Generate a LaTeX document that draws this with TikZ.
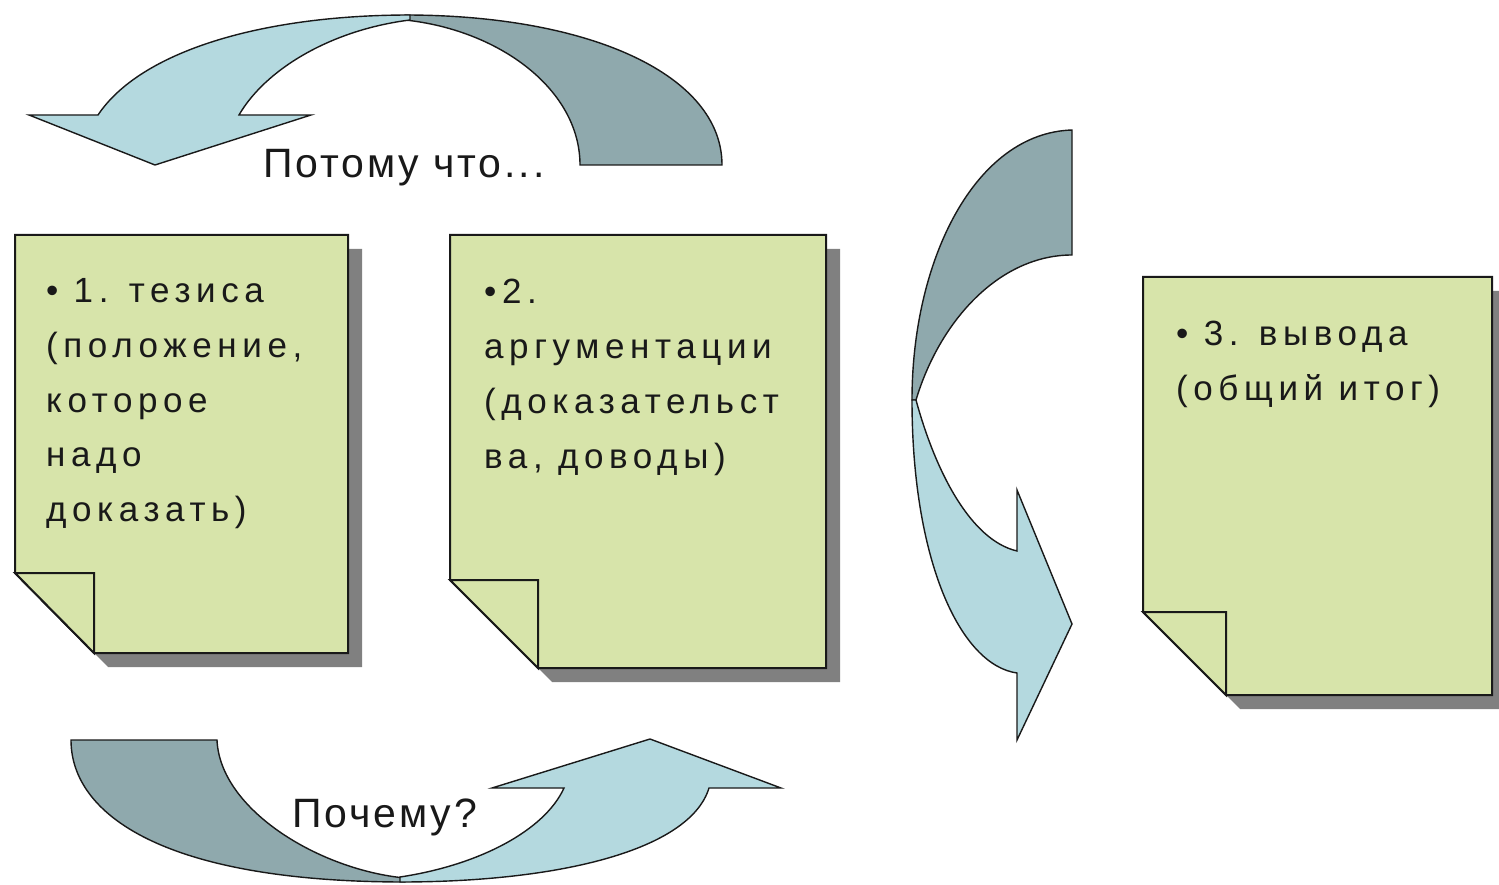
\documentclass[tikz,border=0pt]{standalone}
\usepackage{fontspec}
\setmainfont{Liberation Sans}
\newfontfamily\notefont[LetterSpace=16]{Liberation Sans}
\newfontfamily\labelfont[LetterSpace=7]{Liberation Sans}
\definecolor{notefill}{RGB}{215,228,170}
\definecolor{arrlight}{RGB}{180,217,223}
\definecolor{arrdark}{RGB}{143,169,173}
\definecolor{shadowgray}{RGB}{128,128,128}
\definecolor{inkc}{RGB}{25,25,25}
\begin{document}
\begin{tikzpicture}[x=1pt,y=-1pt,
 notebody/.style={fill=notefill, draw=inkc, line width=2pt, line join=miter},
 noteshadow/.style={fill=shadowgray},
 arrowlight/.style={fill=arrlight, draw=inkc, line width=1.4pt, line join=miter},
 arrowdark/.style={fill=arrdark, draw=inkc, line width=1.4pt, line join=miter},
 notetext/.style={anchor=base west, inner sep=0pt, font=\notefont\fontsize{35}{40}\selectfont, text=inkc},
 labeltext/.style={anchor=base west, inner sep=0pt, font=\labelfont\fontsize{41}{48}\selectfont, text=inkc}]
\useasboundingbox (0,0) rectangle (1499,885);
\clip (0,0) rectangle (1499,885);
\fill[white] (0,0) rectangle (1499,885);

% ---------- note 1 ----------
\fill[noteshadow] (29,249) -- (362,249) -- (362,667) -- (108,667) -- (29,587) -- cycle;
\draw[notebody] (15,235) -- (348,235) -- (348,653) -- (94,653) -- (15,573) -- cycle;
\draw[notebody] (15,573) -- (94,573) -- (94,653) -- cycle;
% ---------- note 2 ----------
\fill[noteshadow] (464,249) -- (840,249) -- (840,682) -- (552,682) -- (464,594) -- cycle;
\draw[notebody] (450,235) -- (826,235) -- (826,668) -- (538,668) -- (450,580) -- cycle;
\draw[notebody] (450,580) -- (538,580) -- (538,668) -- cycle;
% ---------- note 3 ----------
\fill[noteshadow] (1157,291) -- (1506,291) -- (1506,709) -- (1240,709) -- (1157,626) -- cycle;
\draw[notebody] (1143,277) -- (1492,277) -- (1492,695) -- (1226,695) -- (1143,612) -- cycle;
\draw[notebody] (1143,612) -- (1226,612) -- (1226,695) -- cycle;

% ---------- top arrow ----------
\draw[arrowdark] (580,165) -- (722,165) .. controls (722,75) and (590,15) .. (405,15)
  -- (405,20) .. controls (500,30) and (580,90) .. (580,165) -- cycle;
\draw[arrowlight] (98,115) .. controls (140,52) and (260,15) .. (410,15)
  -- (410,20) .. controls (330,30) and (265,70) .. (239,115)
  -- (311,115) -- (155,165) -- (29,115) -- cycle;

% ---------- right arrow ----------
\draw[arrowdark] (1072,130) -- (1072,255) .. controls (1000,255) and (940,320) .. (916,400)
  -- (912,400) .. controls (912,260) and (975,133) .. (1072,130) -- cycle;
\draw[arrowlight] (912,400) .. controls (912,560) and (960,665) .. (1017,673)
  -- (1017,740) -- (1072,624) -- (1017,490) -- (1017,551)
  .. controls (970,540) and (935,470) .. (916,400) -- cycle;

% ---------- bottom arrow ----------
\draw[arrowdark] (71,740) -- (217,740) .. controls (220,810) and (320,870) .. (405,878)
  -- (405,882) .. controls (165,882) and (71,815) .. (71,740) -- cycle;
\draw[arrowlight] (400,882) .. controls (560,882) and (690,850) .. (709,788)
  -- (781,788) -- (650,739) -- (492,788) -- (564,788)
  .. controls (545,830) and (480,865) .. (400,877) -- cycle;

% ---------- texts ----------
\node[notetext] (t1a) at (46,303) {• 1. тезиса};
\node[notetext] (t1b) at (46,357.5) {(положение,};
\node[notetext] (t1c) at (46,412) {которое};
\node[notetext] (t1d) at (46,466.5) {надо};
\node[notetext] (t1e) at (46,521) {доказать)};

\node[notetext] (t2a) at (484,304) {•2.};
\node[notetext] (t2b) at (484,358) {аргументации};
\node[notetext] (t2c) at (484,413) {(доказательст};
\node[notetext] (t2d) at (484,468) {ва, доводы)};

\node[notetext] (t3a) at (1176,345) {• 3. вывода};
\node[notetext] (t3b) at (1176,400) {(общий итог)};

\node[labeltext] (lbltop) at (263,178) {Потому что...};
\node[labeltext] (lblbot) at (292,827) {Почему?};
\end{tikzpicture}
\end{document}
